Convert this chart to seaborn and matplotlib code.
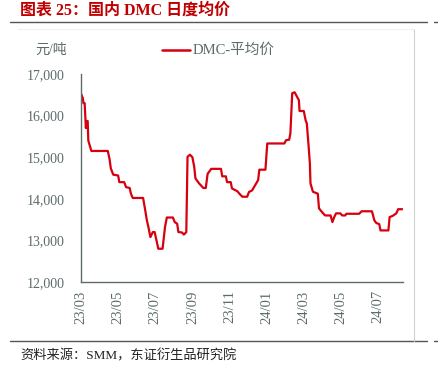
import matplotlib

matplotlib.use("Agg")

import matplotlib.dates as mdates
import matplotlib.pyplot as plt
import matplotlib.ticker as mticker
import pandas as pd
import seaborn as sns


dates = [
    "2023-03-01", "2023-03-04", "2023-03-05", "2023-03-07", "2023-03-09", "2023-03-10",
    "2023-03-12", "2023-03-13", "2023-03-16", "2023-03-18", "2023-04-14", "2023-04-17",
    "2023-04-19", "2023-04-23", "2023-05-01", "2023-05-03", "2023-05-11", "2023-05-14",
    "2023-05-20", "2023-05-22", "2023-05-25", "2023-06-11", "2023-06-14", "2023-06-17",
    "2023-06-20", "2023-06-23", "2023-06-27", "2023-06-30", "2023-07-03", "2023-07-06",
    "2023-07-13", "2023-07-17", "2023-07-20", "2023-07-30", "2023-08-02", "2023-08-06",
    "2023-08-08", "2023-08-14", "2023-08-17", "2023-08-21", "2023-08-23", "2023-08-27",
    "2023-08-31", "2023-09-03", "2023-09-05", "2023-09-11", "2023-09-18", "2023-09-22",
    "2023-09-25", "2023-10-01", "2023-10-17", "2023-10-19", "2023-10-25", "2023-10-27",
    "2023-11-02", "2023-11-04", "2023-11-13", "2023-11-16", "2023-11-21", "2023-11-29",
    "2023-12-02", "2023-12-07", "2023-12-13", "2023-12-17", "2023-12-19", "2023-12-29",
    "2024-01-01", "2024-01-29", "2024-02-01", "2024-02-06", "2024-02-08", "2024-02-11",
    "2024-02-15", "2024-02-19", "2024-02-22", "2024-02-23", "2024-03-01", "2024-03-04",
    "2024-03-06", "2024-03-09", "2024-03-11", "2024-03-12", "2024-03-16", "2024-03-21",
    "2024-03-24", "2024-03-26", "2024-03-31", "2024-04-05", "2024-04-14", "2024-04-17",
    "2024-04-20", "2024-04-23", "2024-04-30", "2024-05-03", "2024-05-08", "2024-05-10",
    "2024-05-31", "2024-06-04", "2024-06-21", "2024-06-25", "2024-06-28", "2024-07-03",
    "2024-07-05", "2024-07-18", "2024-07-20", "2024-07-25", "2024-07-31", "2024-08-03",
    "2024-08-10",
]
dmc_price = [
    16530, 16420, 16300, 16300, 15700, 15870,
    15870, 15400, 15250, 15150, 15150, 14950,
    14730, 14580, 14560, 14400, 14400, 14280,
    14260, 14125, 14020, 14020, 13770, 13500,
    13300, 13080, 13200, 13200, 13000, 12800,
    12800, 13320, 13550, 13550, 13440, 13400,
    13200, 13190, 13140, 13200, 15010, 15060,
    15000, 14770, 14490, 14370, 14260, 14260,
    14600, 14720, 14720, 14540, 14540, 14400,
    14400, 14250, 14180, 14125, 14050, 14050,
    14165, 14200, 14350, 14450, 14700, 14700,
    15330, 15330, 15410, 15420, 15570, 16540,
    16560, 16450, 16370, 16110, 16110, 15890,
    15810, 15250, 14850, 14370, 14170, 14140,
    14125, 13770, 13680, 13600, 13600, 13440,
    13560, 13650, 13650, 13600, 13600, 13640,
    13640, 13700, 13700, 13480, 13420, 13390,
    13240, 13240, 13560, 13590, 13650, 13750,
    13750,
]
tick_months = ["2023-03-01", "2023-05-01", "2023-07-01", "2023-09-01", "2023-11-01",
               "2024-01-01", "2024-03-01", "2024-05-01", "2024-07-01"]

title_text = "图表 25：国内 DMC 日度均价"
unit_text = "元/吨"
series_name = "DMC-平均价"
source_text = "资料来源：SMM，东证衍生品研究院"

sns.set_style("white")
plt.rcParams["font.family"] = ["Liberation Serif", "Noto Sans CJK SC"]

RED = "#d7000f"
GREY = "#5d6b6b"

df = pd.DataFrame({"date": pd.to_datetime(dates), "price": dmc_price})

fig = plt.figure(figsize=(4.38, 3.79), dpi=100)
ax = fig.add_axes([81 / 438, 1 - 282 / 379, 322 / 438, 208 / 379])

sns.lineplot(data=df, x="date", y="price", ax=ax, color=RED, linewidth=1.6, legend=False)

ax.set_xlim(pd.Timestamp("2023-03-01"), pd.Timestamp("2024-08-11"))
ax.set_ylim(12000, 17000)
ax.yaxis.set_major_locator(mticker.MultipleLocator(1000))
ax.yaxis.set_major_formatter(mticker.FuncFormatter(lambda v, p: f"{int(v):,}"))
ax.set_xticks(pd.to_datetime(tick_months))
ax.xaxis.set_major_formatter(mdates.DateFormatter("%y/%m"))
ax.set_xlabel("")
ax.set_ylabel("")

for side in ["top", "right"]:
    ax.spines[side].set_visible(False)
for side in ["left", "bottom"]:
    ax.spines[side].set_color(GREY)
    ax.spines[side].set_linewidth(1.0)

ax.tick_params(axis="y", direction="in", length=4, color=GREY, labelcolor=GREY,
               labelsize=10, pad=12)
ax.tick_params(axis="x", direction="in", length=4, color=GREY, labelcolor=GREY,
               labelsize=10.5, pad=6, labelrotation=90)

# legend and unit drawn as figure text
fig.add_artist(plt.Line2D([162 / 438, 190 / 438], [1 - 50 / 379] * 2, color=RED, lw=1.8))
fig.text(193 / 438, 1 - 50 / 379, series_name, color=GREY, fontsize=10.5, va="center", ha="left")
fig.text(35 / 438, 1 - 50 / 379, unit_text, color=GREY, fontsize=10, va="center", ha="left")

# title, separators, frame and source note
fig.text(20 / 438, 1 - 11 / 379, title_text, color="#c00000", fontsize=11.5,
         fontweight="bold", va="center", ha="left")
for y in (22, 341):
    fig.add_artist(plt.Line2D([10 / 438, 427 / 438], [1 - y / 379] * 2, color="#555555", lw=1.0))
    fig.add_artist(plt.Line2D([434 / 438, 438 / 438], [1 - y / 379] * 2, color="#555555", lw=1.0))
fig.add_artist(plt.Line2D([414 / 438, 414 / 438], [1 - 29 / 379, 1 - 341 / 379],
                          color="#d0d0d0", lw=0.8))
fig.add_artist(plt.Line2D([18 / 438, 414 / 438], [1 - 29 / 379] * 2,
                          color="#f0f0f0", lw=0.8))
fig.text(20 / 438, 1 - 356 / 379, source_text, color="#222222", fontsize=9.5,
         va="center", ha="left")

fig.savefig("out.png", dpi=100)
plt.close(fig)
